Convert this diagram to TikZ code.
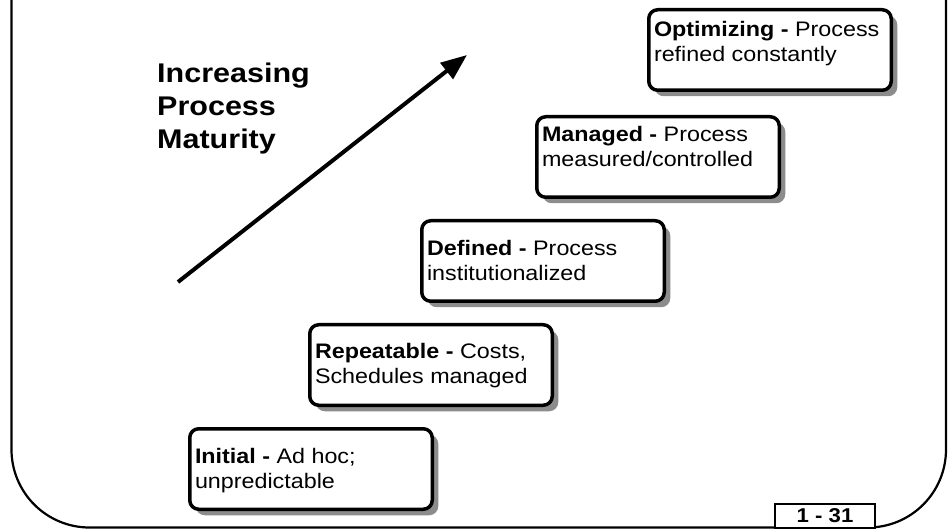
\documentclass[tikz,border=0pt]{standalone}
\usepackage{fontspec}
\setmainfont{Liberation Sans}[FakeStretch=1.11]
\newfontfamily\headfont{Liberation Sans}[FakeStretch=1.13]
\usetikzlibrary{arrows.meta,positioning,shadows}
\tikzset{
	stage/.style={draw, line width=3.5pt, rounded corners=9pt, fill=white,
		drop shadow={shadow xshift=6pt, shadow yshift=-6pt, fill=black!45, opacity=1},
		inner xsep=5.25pt, inner ysep=6.25pt,
		font=\fontsize{21}{25}\selectfont},
	frame/.style={line width=2.2pt},
	rise/.style={line width=4pt, -{Triangle[length=26pt,width=20pt]}},
	pagebox/.style={draw, line width=2pt, fill=white, minimum width=100pt,
		minimum height=24pt, inner sep=0pt,
		font=\fontsize{20}{20}\selectfont\bfseries}
}
\newcommand{\steptext}[4]{\vbox to 68pt{\baselineskip=25pt\vskip#1
	\hbox to 232pt{\textbf{#2} #3\hfil}\hbox to 232pt{#4\hfil}\vfil}}

\begin{document}
\begin{tikzpicture}[x=1pt,y=-1pt]
	\useasboundingbox (0,0) rectangle (948,529);
	\draw[frame, rounded corners=78pt] (11.5,0) -- (11.5,527.5) -- (946,527.5) -- (946,0);
	\node[pagebox, anchor=south] (pageno) at (825,528.5) {1 - 31};
	\node[anchor=north west, inner sep=0pt, align=left,
		font=\headfont\bfseries\fontsize{27}{33}\selectfont] (title) at (157,63)
		{Increasing\\Process\\Maturity};
	\coordinate (low) at (178,282);
	\coordinate (high) at (467,55);
	\draw[rise] (low) -- (high);
	\node[stage, anchor=north west] (initial) at (188,427)
		{\steptext{13.7pt}{Initial -}{Ad hoc;}{unpredictable}};
	\node[stage, above right=20pt and -126pt of initial] (repeatable)
		{\steptext{12.7pt}{Repeatable -}{Costs,}{Schedules managed}};
	\node[stage, above right=20pt and -134pt of repeatable] (defined)
		{\steptext{13.4pt}{Defined -}{Process}{institutionalized}};
	\node[stage, above right=20pt and -131pt of defined] (managed)
		{\steptext{3.4pt}{Managed -}{Process}{measured/controlled}};
	\node[stage, above right=23pt and -134pt of managed] (optimizing)
		{\steptext{5.4pt}{Optimizing -}{Process}{refined constantly}};
\end{tikzpicture}
\end{document}
